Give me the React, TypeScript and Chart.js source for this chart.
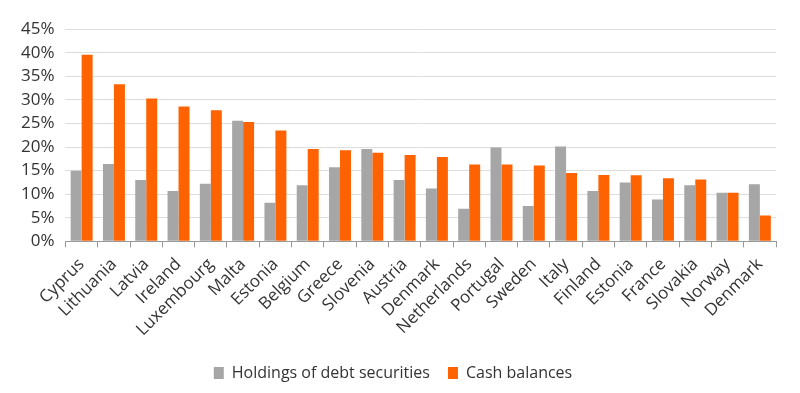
import React, { useEffect, useRef } from "react";
import { Chart, registerables } from "chart.js";

Chart.register(...registerables);

const categories = ["Cyprus", "Lithuania", "Latvia", "Ireland", "Luxembourg", "Malta", "Estonia", "Belgium", "Greece", "Slovenia", "Austria", "Denmark", "Netherlands", "Portugal", "Sweden", "Italy", "Finland", "Estonia", "France", "Slovakia", "Norway", "Denmark"];
const debtSecurities = [15.0, 16.4, 13.0, 10.7, 12.2, 25.6, 8.2, 11.9, 15.7, 19.6, 13.0, 11.2, 6.9, 19.9, 7.5, 20.1, 10.7, 12.5, 8.9, 11.9, 10.3, 12.1];
const cashBalances = [39.6, 33.3, 30.3, 28.6, 27.8, 25.3, 23.5, 19.6, 19.3, 18.8, 18.3, 17.9, 16.3, 16.3, 16.1, 14.5, 14.1, 14.0, 13.4, 13.1, 10.3, 5.5];
const seriesNames = ["Holdings of debt securities", "Cash balances"];

export default function App() {
  const ref = useRef<HTMLCanvasElement>(null);
  useEffect(() => {
    if (!ref.current) return;
    const font = "'Open Sans', sans-serif";
    const chart = new Chart(ref.current, {
      type: "bar",
      data: {
        labels: categories,
        datasets: [
          { label: seriesNames[0], data: debtSecurities, backgroundColor: "#a6a6a6", categoryPercentage: 0.68, barPercentage: 1 },
          { label: seriesNames[1], data: cashBalances, backgroundColor: "#ff6200", categoryPercentage: 0.68, barPercentage: 1 },
        ],
      },
      options: {
        animation: false,
        responsive: false,
        layout: { padding: { top: -3, right: 16, left: 2, bottom: 2 } },
        plugins: {
          legend: {
            position: "bottom",
            labels: { font: { family: font, size: 16 }, color: "#333", boxWidth: 10, boxHeight: 12, padding: 18 },
          },
          tooltip: { enabled: false },
        },
        scales: {
          x: {
            grid: { display: true, drawOnChartArea: false, drawTicks: true, tickLength: 6, color: "#999", offset: true },
            border: { color: "#999" },
            ticks: { font: { family: font, size: 17 }, color: "#333", maxRotation: 45, minRotation: 45, autoSkip: false, padding: 7 },
          },
          y: {
            min: 0,
            max: 45,
            grid: { color: "#dddddd", drawTicks: false },
            border: { display: false },
            ticks: { stepSize: 5, autoSkip: false, font: { family: font, size: 17 }, color: "#333", padding: 11, callback: (v: any) => v + "%" },
          },
        },
      },
    });
    return () => chart.destroy();
  }, []);
  return <canvas ref={ref} width={784} height={385} style={{ display: "block" }} />;
}
